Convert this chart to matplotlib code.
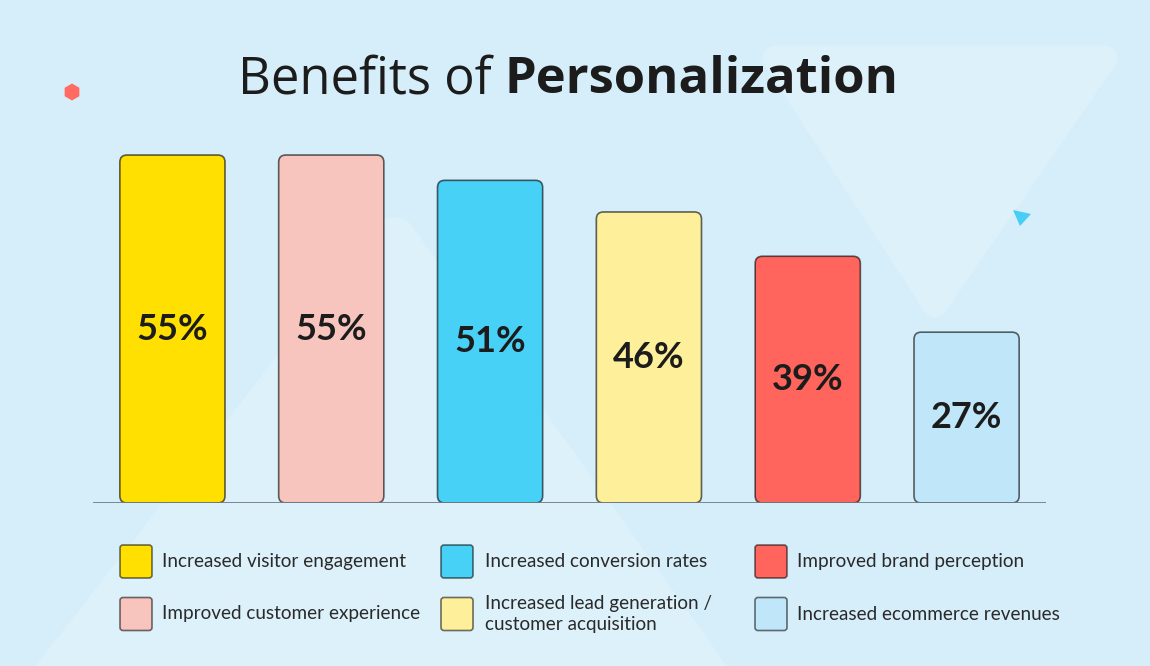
import matplotlib
matplotlib.use("Agg")
import matplotlib.pyplot as plt
from matplotlib.patches import FancyBboxPatch, Polygon, RegularPolygon

# data
categories = [
    "Increased visitor engagement",
    "Improved customer experience",
    "Increased conversion rates",
    "Increased lead generation /\ncustomer acquisition",
    "Improved brand perception",
    "Increased ecommerce revenues",
]
values = [55, 55, 51, 46, 39, 27]
colors = ["#FFE000", "#F8C4BE", "#48D1F7", "#FEF09B", "#FF655C", "#C0E6F9"]

BG = "#d6eef9"
BG_LIGHT = "#ddf1fa"
FONT = "Lato"
TITLE_FONT = "Open Sans"
W, H = 1150, 666

fig = plt.figure(figsize=(W / 100, H / 100), dpi=100)
fig.patch.set_facecolor(BG)

# background layer in pixel coordinates
bg = fig.add_axes([0, 0, 1, 1])
bg.set_xlim(0, W)
bg.set_ylim(H, 0)
bg.axis("off")

# soft decorative shapes
bg.add_patch(Polygon([(775, 58), (1105, 58), (935, 305)], closed=True,
                     facecolor=BG_LIGHT, edgecolor=BG_LIGHT, lw=18, joinstyle="round"))
bg.add_patch(Polygon([(395, 238), (20, 720), (740, 720)], closed=True,
                     facecolor=BG_LIGHT, edgecolor=BG_LIGHT, lw=30, joinstyle="round"))
bg.add_patch(RegularPolygon((72, 92), numVertices=6, radius=8.5,
                            facecolor="#ff6b61", edgecolor="none"))
bg.add_patch(Polygon([(1013, 210), (1031, 214), (1020, 226)], closed=True,
                     facecolor="#48cdf5", edgecolor="none"))

# title: light part + bold part
t1 = fig.text(238 / W, 1 - 93 / H, "Benefits of ", fontsize=36.5, family=TITLE_FONT,
              color="#1c1c1c", va="baseline", ha="left")
bg.annotate("Personalization", xy=(1, 0), xycoords=t1, va="bottom", ha="left",
            fontsize=36.5, family=TITLE_FONT, fontweight="bold", color="#1c1c1c")

# main bar axes
ax = fig.add_axes([93 / W, 1 - 503 / H, 953 / W, 379.6 / H])
ax.set_xlim(-0.5, 5.5)
ax.set_ylim(0, 60)
ax.patch.set_alpha(0)
for s in ax.spines.values():
    s.set_visible(False)
ax.set_xticks([])
ax.set_yticks([])

bars = ax.bar(range(len(values)), values, width=0.662, color=colors)
for rect, c in zip(bars, colors):
    rect.set_visible(False)
    fb = FancyBboxPatch((rect.get_x(), rect.get_y()), rect.get_width(), rect.get_height(),
                        boxstyle="round,pad=0,rounding_size=0.045", mutation_aspect=25,
                        facecolor=c, edgecolor=(0, 0, 0, 0.6), lw=1.2, zorder=2)
    ax.add_patch(fb)

for i, v in enumerate(values):
    ax.text(i, v / 2, f"{v}%", ha="center", va="center", fontsize=26,
            family=FONT, fontweight="bold", color="#1c1c1c", zorder=3)

ax.axhline(0, color="#6f7d86", lw=2, zorder=4)

# legend, filled column by column
sq_x = [120, 441, 755]
txt_x = [162, 485, 797]
row_y = [561.5, 614]
for i, (lab, c) in enumerate(zip(categories, colors)):
    col, row = i // 2, i % 2
    y = row_y[row]
    bg.add_patch(FancyBboxPatch((sq_x[col], y - 16.5), 32, 33,
                                boxstyle="round,pad=0,rounding_size=3",
                                facecolor=c, edgecolor=(0, 0, 0, 0.55), lw=1.2))
    bg.text(txt_x[col], y, lab, ha="left", va="center", fontsize=13.6,
            family=FONT, color="#2a2a2a", linespacing=1.3)

fig.savefig("out.png", dpi=100, facecolor=BG)
